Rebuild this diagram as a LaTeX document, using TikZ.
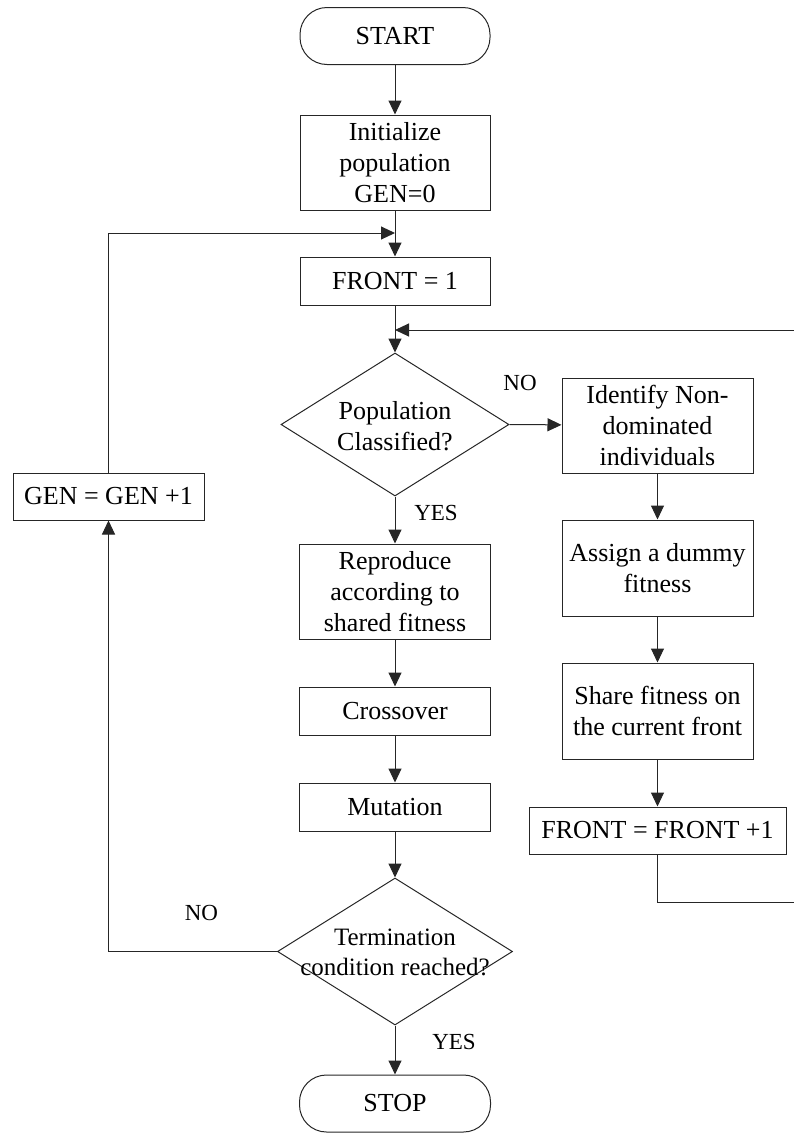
\documentclass[tikz,border=0pt]{standalone}
\usepackage{fontspec}
\setmainfont{Liberation Serif}
\usetikzlibrary{arrows.meta,shapes.geometric}

\begin{document}
\begin{tikzpicture}[x=1pt,y=-1pt,
  line width=1pt,
  box/.style={draw=black!85, rectangle, inner sep=0pt, align=center,
              font=\fontsize{26}{31}\selectfont},
  term/.style={box, rounded corners=27pt},
  decision/.style={draw=black!85, diamond, inner sep=0pt},
  dtext/.style={align=center, inner sep=0pt},
  lbl/.style={inner sep=0pt, font=\fontsize{23}{27}\selectfont},
  arr/.style={draw=black!85, -{Triangle[width=13pt,length=14pt]}},
  line/.style={draw=black!85}]
\useasboundingbox (0,0) rectangle (794,1133);

% main column
\node[term, minimum width=190pt, minimum height=57pt] (start) at (395,36) {START};
\node[box, minimum width=190pt, minimum height=95pt] (init) at (395,162.5) {Initialize\\population\\GEN=0};
\node[box, minimum width=190pt, minimum height=48pt] (front) at (395,281) {FRONT = 1};
\node[decision, minimum width=228pt, minimum height=143pt] (pop) at (395,424.5) {};
\node[dtext, font=\fontsize{26}{31}\selectfont] (poptxt) at (395,426) {Population\\Classified?};
\node[box, minimum width=191pt, minimum height=95pt] (repro) at (395,591.5) {Reproduce\\according to\\shared fitness};
\node[box, minimum width=191pt, minimum height=48pt] (cross) at (395,711) {Crossover};
\node[box, minimum width=191pt, minimum height=48pt] (mut) at (395,807) {Mutation};
\node[decision, minimum width=235pt, minimum height=147pt] (termc) at (395,951.5) {};
\node[dtext, font=\fontsize{25}{30}\selectfont] (termtxt) at (395,952) {Termination\\condition reached?};
\node[term, minimum width=191pt, minimum height=57pt] (stop) at (395,1103.5) {STOP};

% classification branch
\node[box, minimum width=191pt, minimum height=95pt] (ident) at (657.5,425.5) {Identify Non-\\dominated\\individuals};
\node[box, minimum width=191pt, minimum height=96pt] (assign) at (657.5,568) {Assign a dummy\\fitness};
\node[box, minimum width=191pt, minimum height=96pt] (share) at (657.5,711) {Share fitness on\\the current front};
\node[box, minimum width=257pt, minimum height=47pt] (inc) at (657.5,830.5) {FRONT = FRONT +1};

% generation counter
\node[box, minimum width=191pt, minimum height=47pt] (gen) at (108.5,496.5) {GEN = GEN +1};

% junction points
\coordinate (j1) at (395,233);
\coordinate (j2) at (395,330);
\coordinate (rc) at (797,902);

% connectors
\draw[arr] (start) -- (init);
\draw[line] (init) -- (j1);
\draw[arr] (j1) -- (front);
\draw[line] (front) -- (j2);
\draw[arr] (j2) -- (pop.north);
\draw[arr] (pop.south) -- (repro);
\draw[arr] (repro) -- (cross);
\draw[arr] (cross) -- (mut);
\draw[arr] (mut) -- (termc.north);
\draw[arr] (termc.south) -- (stop);
\draw[arr] (pop.east) -- (ident);
\draw[arr] (ident) -- (assign);
\draw[arr] (assign) -- (share);
\draw[arr] (share) -- (inc);
\draw[arr] (inc.south) |- (rc) |- (j2);
\draw[arr] (termc.west) -| (gen.south);
\draw[arr] (gen.north) |- (j1);

% branch labels
\node[lbl] (no1) at (520,383) {NO};
\node[lbl] (yes1) at (436,513) {YES};
\node[lbl] (no2) at (201.5,913) {NO};
\node[lbl] (yes2) at (454,1042) {YES};
\end{tikzpicture}
\end{document}
